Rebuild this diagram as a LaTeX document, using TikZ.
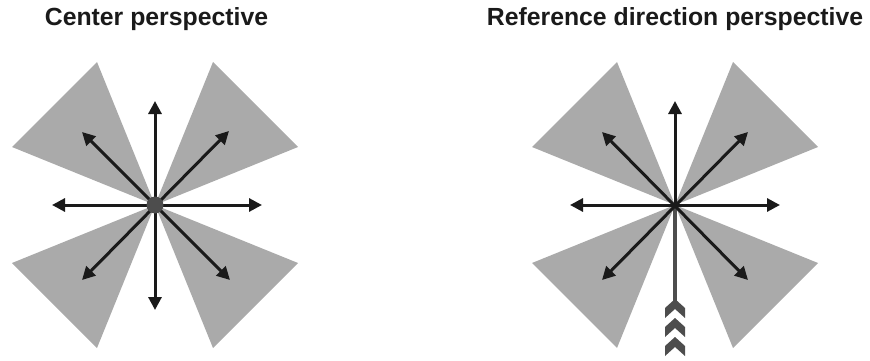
\documentclass[tikz,border=0pt]{standalone}
\usepackage{fontspec}
\setmainfont{Liberation Sans}
\usetikzlibrary{arrows.meta}
\definecolor{wedgegray}{HTML}{AAAAAA}
\definecolor{inkblack}{HTML}{1A1A1A}
\definecolor{darkgray}{HTML}{4D4D4D}
\tikzset{
  wedge/.style={fill=wedgegray, draw=none},
  dirarrow/.style={draw=inkblack, line width=3pt, {Triangle[length=13pt,width=13pt]}-{Triangle[length=13pt,width=13pt]}},
  onearrow/.style={draw=inkblack, line width=3pt, -{Triangle[length=13pt,width=13pt]}},
  title/.style={font=\fontsize{24.8}{28}\selectfont\bfseries, text=inkblack, inner sep=0pt},
  refshaft/.style={draw=darkgray, line width=4.5pt},
  chevron/.style={fill=darkgray, draw=none},
}
\begin{document}
\begin{tikzpicture}[x=1pt,y=-1pt]
\useasboundingbox (0,0) rectangle (870,361);
% titles
\node[title] (t1) at (156.5,19) {Center perspective};
\node[title] (t2) at (675,19) {Reference direction perspective};

% ---------- left figure ----------
\coordinate (cL) at (155,205);
\foreach \sx in {-1,1}{
  \foreach \sy in {-1,1}{
    \fill[wedge] (cL) -- ++(58*\sx,143*\sy) -- ++(85*\sx,-85*\sy) -- cycle;
  }
}
\coordinate (lN) at (155,101);
\coordinate (lS) at (155,310);
\coordinate (lW) at (52,205);
\coordinate (lE) at (262,205);
\coordinate (lNW) at (82,132);
\coordinate (lSE) at (230,280);
\coordinate (lNE) at (229,131);
\coordinate (lSW) at (82,280);
\draw[dirarrow] (lN) -- (lS);
\draw[dirarrow] (lW) -- (lE);
\draw[dirarrow] (lNW) -- (lSE);
\draw[dirarrow] (lNE) -- (lSW);
\node[circle, fill=darkgray, minimum size=17pt, inner sep=0pt] (dot) at (cL) {};

% ---------- right figure ----------
\coordinate (cR) at (675,205);
\foreach \sx in {-1,1}{
  \foreach \sy in {-1,1}{
    \fill[wedge] (cR) -- ++(58*\sx,143*\sy) -- ++(85*\sx,-85*\sy) -- cycle;
  }
}
\coordinate (rN) at (675,101);
\coordinate (rW) at (570,205);
\coordinate (rE) at (780,205);
\coordinate (rNW) at (602,132);
\coordinate (rSE) at (748,280);
\coordinate (rNE) at (748,132);
\coordinate (rSW) at (602,280);
\coordinate (rS) at (675,309);
\draw[refshaft] (cR) -- (rS);
\draw[onearrow] (cR) -- (rN);
\draw[dirarrow] (rW) -- (rE);
\draw[dirarrow] (rNW) -- (rSE);
\draw[dirarrow] (rNE) -- (rSW);
\foreach \t in {299,318,337}{
  \fill[chevron] (665,\t+9) -- (675,\t) -- (685,\t+9) -- (685,\t+19) -- (675,\t+10) -- (665,\t+19) -- cycle;
}
\end{tikzpicture}
\end{document}
